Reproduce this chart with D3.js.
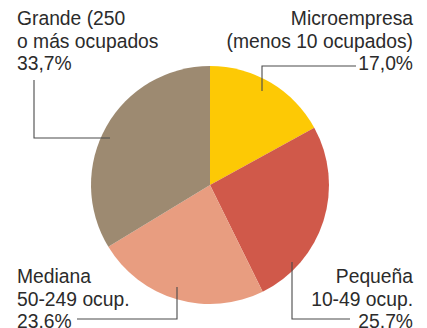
<!DOCTYPE html>
<html>
<head>
<meta charset="utf-8">
<script src="https://cdn.jsdelivr.net/npm/d3@7"></script>
<style>
  html, body { margin: 0; padding: 0; background: #fff; }
  svg { display: block; }
  text { font-family: "Liberation Sans", Arial, Helvetica, sans-serif; fill: #2b2b2b; }
</style>
</head>
<body>
<svg id="chart" width="427" height="328"></svg>
<script>
// Company size shares (% of employed persons)
const categories = ["Microempresa", "Pequeña", "Mediana", "Grande"];
const values = [17.0, 25.7, 23.6, 33.7];
const labelLines = [
  ["Microempresa", "(menos 10 ocupados)", "17,0%"],
  ["Pequeña", "10-49 ocup.", "25,7%"],
  ["Mediana", "50-249 ocup.", "23.6%"],
  ["Grande (250", "o más ocupados", "33,7%"]
];
const colors = ["#fdc905", "#d0594a", "#e89d80", "#9d8a71"];

const svg = d3.select("#chart");
const cx = 210, cy = 185, radius = 119;

const color = d3.scaleOrdinal().domain(categories).range(colors);
const pie = d3.pie().sort(null).value(d => d.value);
const arc = d3.arc().innerRadius(0).outerRadius(radius);

const data = categories.map((c, i) => ({ name: c, value: values[i], lines: labelLines[i] }));
const arcs = pie(data);

const g = svg.append("g").attr("transform", `translate(${cx},${cy})`);
g.selectAll("path")
  .data(arcs)
  .join("path")
  .attr("d", arc)
  .attr("fill", d => color(d.data.name));

// Label placement: text block anchor, alignment and leader polyline
const layout = {
  "Microempresa": { x: 413, y: 25, anchor: "end",   leader: [[262, 91], [262, 66], [356, 66]] },
  "Pequeña":      { x: 413, y: 283, anchor: "end",  leader: [[292, 262], [292, 319], [350, 319]] },
  "Mediana":      { x: 17,  y: 283, anchor: "start", leader: [[177, 287], [177, 319], [77, 319]] },
  "Grande":       { x: 17,  y: 25, anchor: "start", leader: [[110, 138], [34, 138], [34, 80]] }
};
const lineH = 22.5;
const line = d3.line();

arcs.forEach(a => {
  const L = layout[a.data.name];
  svg.append("path")
    .attr("d", line(L.leader))
    .attr("fill", "none")
    .attr("stroke", "#4a4a4a")
    .attr("stroke-width", 1.1);
  const t = svg.append("text")
    .attr("x", L.x)
    .attr("y", L.y)
    .attr("text-anchor", L.anchor)
    .style("font-size", "19.3px");
  a.data.lines.forEach((s, i) => {
    t.append("tspan")
      .attr("x", L.x)
      .attr("y", L.y + i * lineH)
      .text(s);
  });
});
</script>
</body>
</html>
